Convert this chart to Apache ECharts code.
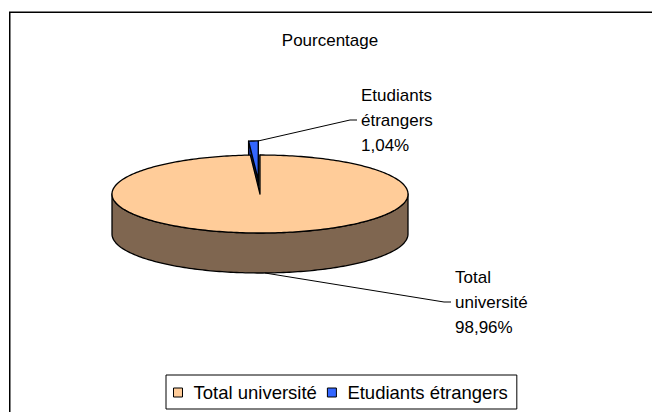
<!DOCTYPE html>
<html>
<head>
<meta charset="utf-8">
<script src="https://cdn.jsdelivr.net/npm/echarts@6/dist/echarts.min.js"></script>
<style>
html, body { margin: 0; padding: 0; background: #fff; }
#chart { width: 652px; height: 412px; }
</style>
</head>
<body>
<div id="chart"></div>
<script>
// data
const categories = ['Total université', 'Etudiants étrangers'];
const values = [98.96, 1.04];
const topColors = ['#FFCC99', '#3366FF'];
const sideColors = ['#7F6650', '#1A3399'];
const explode = [0, 0.36];

const total = values.reduce((a, b) => a + b, 0);
const FONT = '"Liberation Sans", Arial, sans-serif';

// layout of the 3D pie (ellipse) and of the labels
const pie = { cx: 260, cy: 194, rx: 148, ry: 39, depth: 40 };
const labelPos = [[455, 302], [361, 120]];

function pt(a, dx, dy, down) {
  return [pie.cx + dx + pie.rx * Math.sin(a), pie.cy + dy - pie.ry * Math.cos(a) + (down || 0)];
}

function sliceAngles(i) {
  let start = 0;
  for (let k = 0; k < i; k++) start += values[k];
  return [start / total * Math.PI * 2, (start + values[i]) / total * Math.PI * 2];
}

function renderSlice(i) {
  const [a0, a1] = sliceAngles(i);
  const mid = (a0 + a1) / 2;
  const dx = explode[i] * pie.rx * Math.sin(mid);
  const dy = -explode[i] * pie.ry * Math.cos(mid);
  const edge = { stroke: '#000', lineWidth: 1.3, lineJoin: 'round' };
  const center = [pie.cx + dx, pie.cy + dy];
  const children = [];

  const rimAngles = (lo, hi) => {
    const n = Math.max(2, Math.ceil((hi - lo) / 0.02));
    const out = [];
    for (let s = 0; s <= n; s++) out.push(lo + (hi - lo) * s / n);
    return out;
  };

  // side faces of the cut
  [a0, a1].forEach(a => {
    children.push({
      type: 'polygon',
      shape: { points: [center, pt(a, dx, dy), pt(a, dx, dy, pie.depth), [center[0], center[1] + pie.depth]] },
      style: Object.assign({ fill: sideColors[i] }, edge)
    });
  });

  // outer wall, only the front half is visible
  const lo = Math.max(a0, Math.PI / 2), hi = Math.min(a1, Math.PI * 1.5);
  if (hi > lo) {
    const r = rimAngles(lo, hi);
    const pts = r.map(a => pt(a, dx, dy)).concat(r.slice().reverse().map(a => pt(a, dx, dy, pie.depth)));
    children.push({ type: 'polygon', shape: { points: pts }, style: Object.assign({ fill: sideColors[i] }, edge) });
  }

  // top face
  const topPts = [center].concat(rimAngles(a0, a1).map(a => pt(a, dx, dy)));
  children.push({ type: 'polygon', shape: { points: topPts }, style: Object.assign({ fill: topColors[i] }, edge) });

  // label + leader line
  const pct = (values[i] / total * 100).toFixed(2).replace('.', ',') + '%';
  const [lx, ly] = labelPos[i];
  const anchor = explode[i] > 0 ? pt(a1, dx, dy) : pt(mid, dx, dy, pie.depth);
  children.push({
    type: 'polyline',
    shape: { points: [anchor, [lx - 11, ly], [lx - 4, ly]] },
    style: { stroke: '#000', lineWidth: 1, fill: null }
  });
  children.push({
    type: 'text',
    style: {
      x: lx, y: ly,
      text: categories[i].replace(' ', '\n') + '\n' + pct,
      font: '17px ' + FONT, fill: '#000', lineHeight: 25,
      align: 'left', verticalAlign: 'middle'
    }
  });

  return { type: 'group', children: children };
}

const chart = echarts.init(document.getElementById('chart'), null, { renderer: 'svg' });

const option = {
  animation: false,
  backgroundColor: '#fff',
  title: {
    text: 'Pourcentage',
    left: 330,
    top: 32,
    textAlign: 'center',
    padding: 0,
    textStyle: { fontFamily: FONT, fontSize: 17, fontWeight: 'normal', color: '#000' }
  },
  legend: {
    left: 166,
    top: 375,
    orient: 'horizontal',
    padding: [8, 9, 7, 7],
    backgroundColor: '#fff',
    borderColor: '#000',
    borderWidth: 1,
    itemWidth: 9,
    itemHeight: 9,
    itemGap: 10,
    icon: 'rect',
    itemStyle: { borderColor: '#000', borderWidth: 1 },
    textStyle: { fontFamily: FONT, fontSize: 18.5, color: '#000', padding: [0, 0, 0, 6] },
    data: categories
  },
  graphic: [{
    type: 'rect',
    shape: { x: 9.75, y: 12.25, width: 700, height: 500 },
    style: { fill: null, stroke: '#000', lineWidth: 1.5 },
    z: -1
  }],
  series: categories.map((name, i) => ({
    type: 'custom',
    name: name,
    coordinateSystem: 'none',
    z: i === 0 ? 3 : 2,
    itemStyle: { color: topColors[i] },
    data: [[values[i]]],
    renderItem: () => renderSlice(i)
  }))
};

chart.setOption(option);

window.addEventListener('resize', () => {
  chart.resize();
});
</script>
</body>
</html>
